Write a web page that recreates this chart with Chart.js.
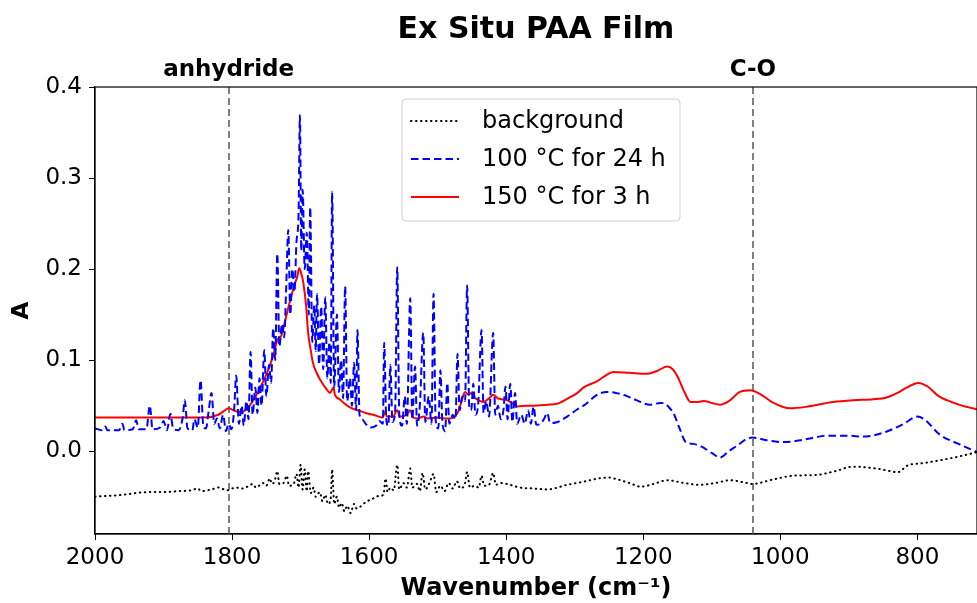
<!DOCTYPE html>
<html>
<head>
<meta charset="utf-8">
<script src="https://cdn.jsdelivr.net/npm/chart.js@4.4.0/dist/chart.umd.min.js"></script>
<style>
  html, body { margin: 0; padding: 0; background: #fff; }
  #wrap { width: 977px; height: 603px; }
</style>
</head>
<body>
<div id="wrap"><canvas id="ftir"></canvas></div>
<script>
// background spectrum
const bgWave = [2000, 1960, 1924, 1900, 1880, 1860, 1850, 1845, 1830, 1820, 1807, 1795, 1785, 1775, 1770, 1765, 1755, 1750, 1745, 1742,
  1738, 1734, 1731, 1725, 1720, 1717, 1710, 1706, 1703, 1700, 1697, 1694, 1691, 1689, 1685, 1681, 1678, 1672, 1668, 1664,
  1660, 1656, 1654, 1651, 1647, 1644, 1640, 1636, 1632, 1627, 1622, 1618, 1613, 1605, 1594, 1585, 1579, 1576, 1573, 1569,
  1564, 1559, 1556, 1550, 1545, 1540, 1537, 1530, 1526, 1522, 1518, 1512, 1506, 1502, 1496, 1490, 1484, 1478, 1472, 1467,
  1460, 1457, 1453, 1446, 1440, 1436, 1432, 1425, 1419, 1415, 1409, 1394, 1380, 1360, 1340, 1311, 1290, 1265, 1250, 1238,
  1220, 1204, 1185, 1165, 1140, 1117, 1095, 1073, 1055, 1041, 1010, 981, 946, 920, 894, 860, 828, 815, 790, 767, 740, 713];
const bgAbs = [-0.050, -0.048, -0.045, -0.045, -0.044, -0.043, -0.041, -0.044, -0.042, -0.040, -0.043, -0.040, -0.041, -0.038, -0.036, -0.040, -0.035, -0.038, -0.030, -0.036,
  -0.033, -0.022, -0.036, -0.035, -0.027, -0.038, -0.036, -0.025, -0.040, -0.015, -0.042, -0.020, -0.044, -0.022, -0.046, -0.040, -0.050, -0.045, -0.055, -0.048,
  -0.058, -0.052, -0.020, -0.058, -0.050, -0.062, -0.057, -0.066, -0.060, -0.068, -0.058, -0.063, -0.061, -0.056, -0.052, -0.049, -0.048, -0.030, -0.045, -0.040,
  -0.043, -0.015, -0.042, -0.035, -0.040, -0.019, -0.040, -0.036, -0.044, -0.024, -0.042, -0.035, -0.025, -0.045, -0.038, -0.044, -0.035, -0.041, -0.033, -0.041,
  -0.035, -0.023, -0.040, -0.038, -0.040, -0.027, -0.038, -0.037, -0.024, -0.037, -0.035, -0.037, -0.040, -0.041, -0.042, -0.037, -0.034, -0.030, -0.029, -0.031,
  -0.035, -0.039, -0.036, -0.032, -0.035, -0.037, -0.035, -0.032, -0.034, -0.036, -0.031, -0.027, -0.026, -0.022, -0.017, -0.019, -0.023, -0.016, -0.013, -0.010, -0.006, -0.001];

// 100 C for 24 h
const lowWave = [2000, 1990, 1985, 1982, 1965, 1960, 1957, 1945, 1940, 1936, 1925, 1920, 1916, 1905, 1900, 1895, 1890, 1886, 1878, 1872,
  1869, 1865, 1858, 1855, 1850, 1846, 1842, 1838, 1834, 1830, 1826, 1822, 1818, 1813, 1809, 1805, 1801, 1797, 1794, 1790,
  1786, 1783, 1779, 1776, 1773, 1770, 1766, 1763, 1760, 1757, 1753, 1750, 1746, 1743, 1740, 1737, 1734, 1731, 1727, 1724,
  1721, 1718, 1715, 1712, 1709, 1706, 1703, 1701, 1699, 1697, 1694, 1691, 1688, 1686, 1683, 1680, 1678, 1676, 1673, 1670,
  1667, 1664, 1661, 1658, 1656, 1654, 1651, 1647, 1644, 1641, 1638, 1635, 1632, 1628, 1625, 1622, 1619, 1617, 1614, 1610,
  1605, 1598, 1590, 1585, 1580, 1578, 1575, 1572, 1569, 1566, 1562, 1559, 1556, 1552, 1548, 1545, 1540, 1537, 1533, 1530,
  1526, 1521, 1518, 1513, 1509, 1506, 1503, 1499, 1496, 1493, 1489, 1486, 1483, 1478, 1474, 1471, 1468, 1464, 1460, 1457,
  1454, 1451, 1448, 1445, 1441, 1436, 1433, 1429, 1425, 1419, 1416, 1412, 1408, 1404, 1401, 1398, 1394, 1391, 1387, 1384,
  1378, 1373, 1368, 1364, 1360, 1356, 1350, 1345, 1340, 1336, 1325, 1311, 1296, 1287, 1267, 1253, 1240, 1229, 1210, 1190,
  1175, 1168, 1160, 1156, 1147, 1138, 1127, 1115, 1100, 1088, 1075, 1063, 1050, 1041, 1020, 996, 970, 950, 932, 900,
  879, 860, 840, 820, 800, 790, 767, 740, 713];
const lowAbs = [0.025, 0.023, 0.027, 0.023, 0.023, 0.030, 0.023, 0.024, 0.034, 0.024, 0.024, 0.050, 0.024, 0.026, 0.033, 0.023, 0.041, 0.025, 0.023, 0.037,
  0.056, 0.025, 0.023, 0.035, 0.026, 0.078, 0.028, 0.025, 0.045, 0.064, 0.030, 0.036, 0.025, 0.040, 0.022, 0.030, 0.024, 0.045, 0.083, 0.030,
  0.050, 0.028, 0.055, 0.035, 0.109, 0.040, 0.070, 0.042, 0.080, 0.050, 0.111, 0.060, 0.095, 0.075, 0.135, 0.100, 0.217, 0.115, 0.140, 0.125,
  0.180, 0.243, 0.150, 0.200, 0.175, 0.230, 0.260, 0.369, 0.220, 0.287, 0.200, 0.240, 0.150, 0.268, 0.120, 0.160, 0.110, 0.173, 0.095, 0.159,
  0.090, 0.169, 0.080, 0.120, 0.075, 0.285, 0.070, 0.150, 0.065, 0.100, 0.058, 0.181, 0.055, 0.080, 0.050, 0.097, 0.045, 0.133, 0.040, 0.035,
  0.030, 0.026, 0.028, 0.033, 0.030, 0.119, 0.035, 0.028, 0.095, 0.032, 0.045, 0.202, 0.040, 0.028, 0.060, 0.030, 0.168, 0.035, 0.093, 0.028,
  0.050, 0.130, 0.032, 0.060, 0.030, 0.173, 0.035, 0.025, 0.089, 0.030, 0.022, 0.075, 0.030, 0.040, 0.035, 0.107, 0.045, 0.060, 0.055, 0.182,
  0.050, 0.045, 0.074, 0.040, 0.050, 0.133, 0.042, 0.055, 0.038, 0.130, 0.040, 0.050, 0.035, 0.045, 0.071, 0.035, 0.074, 0.032, 0.064, 0.030,
  0.040, 0.030, 0.045, 0.030, 0.049, 0.029, 0.030, 0.035, 0.042, 0.031, 0.032, 0.038, 0.046, 0.050, 0.062, 0.065, 0.064, 0.062, 0.056, 0.051,
  0.053, 0.052, 0.046, 0.042, 0.025, 0.010, 0.008, 0.005, -0.002, -0.007, 0.000, 0.006, 0.013, 0.015, 0.012, 0.010, 0.012, 0.015, 0.017, 0.017,
  0.016, 0.018, 0.023, 0.030, 0.038, 0.035, 0.018, 0.008, -0.001];

// 150 C for 3 h
const highWave = [2000, 1900, 1840, 1820, 1810, 1805, 1798, 1790, 1780, 1769, 1760, 1749, 1740, 1734, 1728, 1722, 1715, 1708, 1705, 1702,
  1699, 1696, 1692, 1689, 1685, 1682, 1676, 1671, 1664, 1657, 1652, 1650, 1643, 1637, 1628, 1617, 1605, 1594, 1580, 1577,
  1574, 1565, 1559, 1555, 1545, 1540, 1536, 1530, 1520, 1515, 1500, 1490, 1482, 1471, 1465, 1460, 1455, 1452, 1445, 1438,
  1433, 1425, 1419, 1412, 1399, 1390, 1384, 1370, 1360, 1340, 1326, 1310, 1296, 1287, 1267, 1255, 1244, 1220, 1194, 1180,
  1165, 1157, 1150, 1140, 1131, 1120, 1112, 1100, 1088, 1075, 1059, 1044, 1030, 1010, 986, 960, 923, 893, 864, 845,
  829, 815, 799, 785, 770, 757, 735, 713];
const highAbs = [0.037, 0.037, 0.037, 0.040, 0.045, 0.047, 0.045, 0.043, 0.045, 0.056, 0.068, 0.086, 0.105, 0.122, 0.127, 0.145, 0.166, 0.185, 0.191, 0.201,
  0.195, 0.185, 0.160, 0.130, 0.110, 0.097, 0.085, 0.078, 0.070, 0.064, 0.070, 0.062, 0.057, 0.053, 0.048, 0.045, 0.042, 0.040, 0.037, 0.043,
  0.038, 0.038, 0.045, 0.038, 0.040, 0.045, 0.037, 0.036, 0.038, 0.036, 0.037, 0.036, 0.036, 0.042, 0.055, 0.065, 0.062, 0.064, 0.058, 0.055,
  0.054, 0.058, 0.062, 0.058, 0.056, 0.052, 0.049, 0.050, 0.050, 0.051, 0.052, 0.058, 0.064, 0.070, 0.077, 0.083, 0.087, 0.086, 0.085, 0.088,
  0.093, 0.090, 0.082, 0.065, 0.054, 0.054, 0.055, 0.053, 0.051, 0.055, 0.065, 0.067, 0.063, 0.053, 0.047, 0.049, 0.054, 0.056, 0.057, 0.059,
  0.064, 0.070, 0.075, 0.071, 0.061, 0.056, 0.050, 0.046];

const seriesLabels = ['background', '100 °C for 24 h', '150 °C for 3 h'];
const markerWaves = [1805, 1040];
const markerLabels = ['anhydride', 'C-O'];
const xTicks = [2000, 1800, 1600, 1400, 1200, 1000, 800];
const yTicks = [0.0, 0.1, 0.2, 0.3, 0.4];

const FONT = "'DejaVu Sans', sans-serif";

function pts(w, a) {
  return w.map((x, i) => ({ x: x, y: a[i] }));
}

const frame = {
  id: 'frame',
  beforeDatasetsDraw(chart) {
    const { ctx, chartArea: ca, scales } = chart;
    ctx.save();
    ctx.strokeStyle = '#808080';
    ctx.lineWidth = 2;
    ctx.setLineDash([7, 4]);
    markerWaves.forEach(w => {
      const px = Math.round(scales.x.getPixelForValue(w));
      ctx.beginPath();
      ctx.moveTo(px, ca.top);
      ctx.lineTo(px, ca.bottom);
      ctx.stroke();
    });
    ctx.restore();
  },
  afterDraw(chart) {
    const { ctx, chartArea: ca, scales } = chart;
    ctx.save();
    // axes box
    ctx.strokeStyle = '#000';
    ctx.lineWidth = 1.2;
    ctx.strokeRect(ca.left, ca.top, ca.right - ca.left, ca.bottom - ca.top);

    // title and marker labels
    ctx.fillStyle = '#000';
    ctx.textAlign = 'center';
    ctx.textBaseline = 'middle';
    ctx.font = 'bold 30px ' + FONT;
    ctx.fillText('Ex Situ PAA Film', (ca.left + ca.right) / 2, 30);
    ctx.font = 'bold 23px ' + FONT;
    markerWaves.forEach((w, i) => {
      ctx.fillText(markerLabels[i], scales.x.getPixelForValue(w), 70);
    });

    // legend
    const bx = 402, by = 99, bw = 278, bh = 122;
    ctx.beginPath();
    ctx.roundRect(bx, by, bw, bh, 4);
    ctx.fillStyle = 'rgba(255,255,255,0.85)';
    ctx.fill();
    ctx.strokeStyle = '#d0d0d0';
    ctx.lineWidth = 1;
    ctx.stroke();
    ctx.font = '24px ' + FONT;
    ctx.textAlign = 'left';
    chart.data.datasets.forEach((ds, i) => {
      const yy = 121 + i * 38;
      ctx.strokeStyle = ds.borderColor;
      ctx.lineWidth = ds.borderWidth;
      ctx.lineCap = ds.borderCapStyle || 'butt';
      ctx.setLineDash(ds.borderDash || []);
      ctx.beginPath();
      ctx.moveTo(411, yy);
      ctx.lineTo(459, yy);
      ctx.stroke();
      ctx.setLineDash([]);
      ctx.fillStyle = '#000';
      ctx.fillText(ds.label, 482, yy + 1);
    });
    ctx.restore();
  }
};

new Chart(document.getElementById('ftir'), {
  type: 'scatter',
  data: {
    datasets: [
      {
        label: seriesLabels[0],
        data: pts(bgWave, bgAbs),
        borderColor: '#000000',
        borderWidth: 2,
        borderDash: [0.5, 4.5],
        borderCapStyle: 'round'
      },
      {
        label: seriesLabels[1],
        data: pts(lowWave, lowAbs),
        borderColor: '#0000ff',
        borderWidth: 2,
        borderDash: [7.5, 4]
      },
      {
        label: seriesLabels[2],
        data: pts(highWave, highAbs),
        borderColor: '#ff0000',
        borderWidth: 2
      }
    ]
  },
  options: {
    responsive: true,
    maintainAspectRatio: false,
    animation: false,
    devicePixelRatio: 1,
    showLine: true,
    elements: {
      point: { radius: 0, hoverRadius: 0 },
      line: { cubicInterpolationMode: 'monotone' }
    },
    layout: { padding: { top: 87, right: 0, left: 0, bottom: 0 } },
    plugins: {
      legend: { display: false },
      tooltip: { enabled: false }
    },
    scales: {
      x: {
        type: 'linear',
        reverse: true,
        min: 713,
        max: 2000,
        afterBuildTicks: s => { s.ticks = xTicks.map(v => ({ value: v })); },
        afterFit: s => { s.height = 69; },
        grid: { drawOnChartArea: false, drawTicks: true, tickLength: 6, color: '#000' },
        border: { color: '#000', width: 1.2 },
        ticks: {
          color: '#000',
          font: { family: FONT, size: 23 },
          padding: 4,
          maxRotation: 0,
          callback: v => String(v)
        },
        title: {
          display: true,
          text: 'Wavenumber (cm⁻¹)',
          color: '#000',
          font: { family: FONT, size: 24, weight: 'bold' },
          padding: { top: 0, bottom: 0 }
        }
      },
      y: {
        type: 'linear',
        min: -0.091,
        max: 0.4,
        afterBuildTicks: s => { s.ticks = yTicks.map(v => ({ value: v })); },
        afterFit: s => { s.width = 95; },
        grid: { drawOnChartArea: false, drawTicks: true, tickLength: 6, color: '#000' },
        border: { color: '#000', width: 1.2 },
        ticks: {
          color: '#000',
          font: { family: FONT, size: 23 },
          padding: 7,
          callback: v => v.toFixed(1)
        },
        title: {
          display: true,
          text: 'A',
          color: '#000',
          font: { family: FONT, size: 23, weight: 'bold' },
          padding: { top: 8, bottom: 0 }
        }
      }
    }
  },
  plugins: [frame]
});
</script>
</body>
</html>
